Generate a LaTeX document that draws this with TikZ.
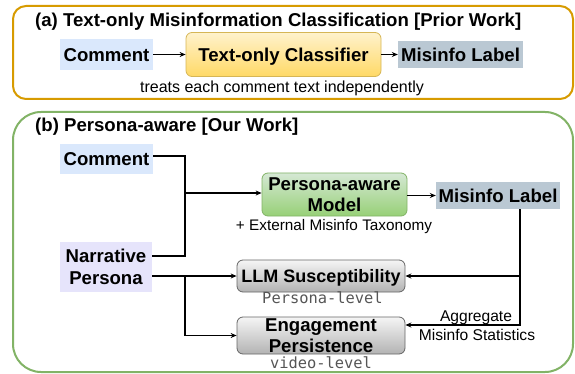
\documentclass[tikz,border=0pt]{standalone}
\usepackage{fontspec}
\setmainfont{Liberation Sans}
\newfontfamily\dvmono{DejaVu Sans Mono}
\usetikzlibrary{arrows.meta,calc}
\definecolor{orangeline}{HTML}{D79B00}
\definecolor{greenline}{HTML}{82B366}
\definecolor{bluefill}{HTML}{DAE8FC}
\definecolor{labfill}{HTML}{BAC8D3}
\definecolor{lavfill}{HTML}{E6E4FB}
\definecolor{yeltop}{HTML}{FFF2CC}
\definecolor{yelbot}{HTML}{FFD966}
\definecolor{yelline}{HTML}{D6B656}
\definecolor{grntop}{HTML}{D5E8D4}
\definecolor{grnbot}{HTML}{97D077}
\definecolor{gratop}{HTML}{F5F5F5}
\definecolor{grabot}{HTML}{B3B3B3}
\definecolor{graline}{HTML}{666666}
\definecolor{monogray}{HTML}{555555}
\tikzset{
  lbl/.style={font=\fontsize{18.6}{21.5}\selectfont\bfseries, inner sep=0pt, align=center},
  oneline/.style={text height=13.4pt, text depth=0pt},
  flatbox/.style={lbl, draw=none},
  ybox/.style={lbl, rounded corners=6pt, draw=yelline, line width=0.8pt, top color=yeltop, bottom color=yelbot},
  gnbox/.style={lbl, rounded corners=6pt, draw=greenline, line width=0.8pt, top color=grntop, bottom color=grnbot},
  gybox/.style={lbl, rounded corners=6pt, draw=graline, line width=0.8pt, top color=gratop, bottom color=grabot},
  arr/.style={-{Stealth[length=6pt,width=5pt]}, line width=1.2pt},
  conn/.style={line width=1.2pt},
  note/.style={font=\fontsize{15.6}{18}\selectfont, inner sep=0pt, anchor=base},
  mononote/.style={font=\dvmono\fontsize{15.4}{18}\selectfont, text=monogray, inner sep=0pt, anchor=base},
  panel/.style={draw, line width=2pt, inner sep=0pt}
}
\begin{document}
\begin{tikzpicture}[x=1pt,y=-1pt]
\useasboundingbox (0,0) rectangle (575,374);

% ---------- panel (a)
\node[panel, draw=orangeline, rounded corners=13pt, minimum width=560, minimum height=93] (panelA) at (293,52.5) {};
\node[lbl, anchor=base west] (titleA) at (35,26.7) {(a) Text-only Misinformation Classification [Prior Work]};
\node[flatbox, oneline, fill=bluefill, minimum width=93, minimum height=31] (cA) at (106.5,54.5) {Comment};
\node[ybox, oneline, minimum width=195, minimum height=44] (clfA) at (283.5,54.5) {Text-only Classifier};
\node[flatbox, oneline, fill=labfill, minimum width=125, minimum height=27] (lA) at (460.5,54.5) {Misinfo Label};
\node[note, font=\fontsize{16}{18}\selectfont] (tA) at (282,92.5) {treats each comment text independently};
\draw[arr] (cA.east) -- (clfA.west);
\draw[arr] (clfA.east) -- (lA.west);

% ---------- panel (b)
\node[panel, draw=greenline, rounded corners=28pt, minimum width=560, minimum height=260] (panelB) at (293,242) {};
\node[lbl, anchor=base west] (titleB) at (35,131.7) {(b) Persona-aware [Our Work]};
\node[flatbox, oneline, fill=bluefill, minimum width=93, minimum height=30] (cB) at (106.5,159) {Comment};
\node[flatbox, fill=lavfill, minimum width=92, minimum height=50] (nP) at (106,267) {Narrative\\Persona};
\node[gnbox, minimum width=145, minimum height=43] (model) at (334.5,194.5) {Persona-aware\\Model};
\node[note, font=\fontsize{15.3}{18}\selectfont] (tax) at (334,230.5) {+ External Misinfo Taxonomy};
\node[flatbox, oneline, fill=labfill, minimum width=124, minimum height=27] (lB) at (498,195.5) {Misinfo Label};
\node[gybox, oneline, font=\fontsize{18}{21.5}\selectfont\bfseries, minimum width=168, minimum height=32] (llm) at (321,276) {LLM Susceptibility};
\node[mononote] (plev) at (322.5,303.5) {Persona-level};
\node[gybox, minimum width=168, minimum height=37] (eng) at (321,335.5) {Engagement\\Persistence};
\node[mononote] (vlev) at (321,368.5) {video-level};
\node[note] (agg) at (476,321.5) {Aggregate};
\node[note] (stat) at (477,340.5) {Misinfo Statistics};

% junction coordinates
\coordinate (cOut) at ([yshift=3pt]cB.east);
\coordinate (nTop) at ([yshift=11pt]nP.east);
\coordinate (nBot) at ([yshift=-9pt]nP.east);
\coordinate (jx) at (185,193);
\coordinate (kx) at (520,325);

\draw[conn] (cOut) -| (jx |- nTop) -- (nTop);
\draw[arr] (jx) -- (jx -| model.west);
\draw[arr] (nBot) -- (nBot -| llm.west);
\draw[arr] (jx |- nBot) |- (eng.west);
\draw[arr] (model.east |- lB.west) -- (lB.west);
\draw[arr] (lB.south -| kx) |- (kx -| eng.east);
\draw[arr] (kx |- llm.east) -- (llm.east);
\end{tikzpicture}
\end{document}
